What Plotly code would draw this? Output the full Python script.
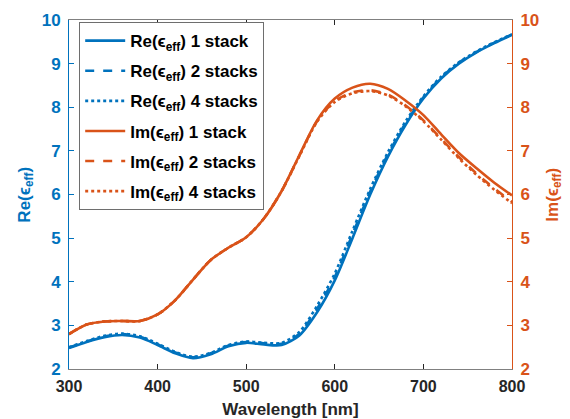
import plotly.graph_objects as go

wavelength = [300, 320, 340, 360, 380, 400, 420, 440, 460, 480, 500, 520, 540,
              560, 580, 600, 620, 640, 660, 680, 700, 720, 740, 760, 780, 800]

re_1 = [2.48, 2.62, 2.73, 2.78, 2.72, 2.55, 2.36, 2.25, 2.34, 2.52, 2.60, 2.56, 2.55,
        2.77, 3.30, 4.03, 5.00, 6.00, 6.87, 7.60, 8.20, 8.66, 9.00, 9.26, 9.47, 9.66]
re_2 = [2.49, 2.63, 2.75, 2.80, 2.74, 2.57, 2.38, 2.27, 2.36, 2.54, 2.62, 2.59, 2.58,
        2.81, 3.38, 4.11, 5.09, 6.07, 6.92, 7.64, 8.23, 8.68, 9.02, 9.27, 9.48, 9.67]
re_4 = [2.50, 2.64, 2.76, 2.81, 2.75, 2.58, 2.39, 2.28, 2.37, 2.55, 2.63, 2.60, 2.60,
        2.85, 3.45, 4.19, 5.17, 6.13, 6.97, 7.68, 8.25, 8.70, 9.03, 9.28, 9.49, 9.67]

im_1 = [2.80, 3.02, 3.09, 3.10, 3.10, 3.25, 3.58, 4.05, 4.50, 4.78, 5.02, 5.45, 6.08,
        6.90, 7.70, 8.20, 8.45, 8.54, 8.42, 8.15, 7.82, 7.38, 6.95, 6.60, 6.27, 5.98]
im_2 = [2.80, 3.02, 3.09, 3.10, 3.10, 3.25, 3.58, 4.05, 4.50, 4.78, 5.02, 5.45, 6.08,
        6.89, 7.68, 8.14, 8.34, 8.39, 8.29, 8.04, 7.70, 7.28, 6.86, 6.48, 6.14, 5.83]
im_4 = [2.80, 3.02, 3.09, 3.10, 3.10, 3.25, 3.58, 4.05, 4.50, 4.78, 5.02, 5.45, 6.08,
        6.88, 7.67, 8.12, 8.32, 8.37, 8.27, 8.02, 7.68, 7.26, 6.83, 6.45, 6.11, 5.80]

x_ticks = [300, 400, 500, 600, 700, 800]
y_ticks = [2, 3, 4, 5, 6, 7, 8, 9, 10]

BLUE = "#0072BD"
ORANGE = "#D95319"
GREY = "#262626"
FONT = "Liberation Sans"

series = [
    ("Re(ϵ<sub>eff</sub>) 1 stack", re_1, BLUE, "solid", "y"),
    ("Re(ϵ<sub>eff</sub>) 2 stacks", re_2, BLUE, "dash", "y"),
    ("Re(ϵ<sub>eff</sub>) 4 stacks", re_4, BLUE, "dot", "y"),
    ("Im(ϵ<sub>eff</sub>) 1 stack", im_1, ORANGE, "solid", "y2"),
    ("Im(ϵ<sub>eff</sub>) 2 stacks", im_2, ORANGE, "dash", "y2"),
    ("Im(ϵ<sub>eff</sub>) 4 stacks", im_4, ORANGE, "dot", "y2"),
]

fig = go.Figure()
for i, (name, vals, col, dash, yax) in enumerate(series):
    fig.add_trace(go.Scatter(
        x=wavelength, y=vals, name=name, yaxis=yax, mode="lines",
        line=dict(color=col, dash=dash, width=2.6, shape="spline", smoothing=0.8),
        legendgroup=f"g{i}",
    ))

# the page body adds an 8px offset, so the figure is sized to fill the rest
fig.update_layout(
    width=562, height=411,
    margin=dict(l=61, r=58, t=12, b=50),
    paper_bgcolor="white", plot_bgcolor="white",
    font=dict(family=FONT, size=15, color=GREY, weight="bold"),
    showlegend=True,
    legend=dict(
        x=0.023, y=0.994, xanchor="left", yanchor="top",
        bgcolor="white", bordercolor="#6e6e6e", borderwidth=1,
        font=dict(family=FONT, size=17, color="black", weight="bold"),
        tracegroupgap=5, itemwidth=40,
    ),
    xaxis=dict(
        range=[300, 800], tickvals=x_ticks, ticks="inside", ticklen=5,
        tickcolor=GREY, showline=True, linecolor="#808080", linewidth=1,
        mirror="ticks", showgrid=False, zeroline=False, automargin=False,
        ticklabelstandoff=3,
        tickfont=dict(family=FONT, size=16, color=GREY, weight="bold"),
        title=dict(text="Wavelength [nm]",
                   font=dict(family=FONT, size=17, color=GREY, weight="bold")),
    ),
    yaxis=dict(
        range=[2, 10], tickvals=y_ticks, ticks="inside", ticklen=5,
        tickcolor=BLUE, showline=True, linecolor=BLUE, linewidth=1,
        showgrid=False, zeroline=False, automargin=False,
        ticklabelstandoff=4,
        tickfont=dict(family=FONT, size=17, color=BLUE, weight="bold"),
    ),
    yaxis2=dict(
        range=[2, 10], tickvals=y_ticks, ticks="inside", ticklen=5,
        tickcolor=ORANGE, showline=True, linecolor=ORANGE, linewidth=1,
        overlaying="y", side="right", showgrid=False, zeroline=False,
        automargin=False, ticklabelstandoff=4,
        tickfont=dict(family=FONT, size=17, color=ORANGE, weight="bold"),
    ),
    annotations=[
        dict(text="Re(ϵ<sub>eff</sub>)", xref="paper", yref="paper",
             x=-0.099, y=0.5, xanchor="center", yanchor="middle",
             textangle=-90, showarrow=False,
             font=dict(family=FONT, size=17, color=BLUE, weight="bold")),
        dict(text="Im(ϵ<sub>eff</sub>)", xref="paper", yref="paper",
             x=1.093, y=0.5, xanchor="center", yanchor="middle",
             textangle=-90, showarrow=False,
             font=dict(family=FONT, size=17, color=ORANGE, weight="bold")),
    ],
)

fig.write_html("out.html")
